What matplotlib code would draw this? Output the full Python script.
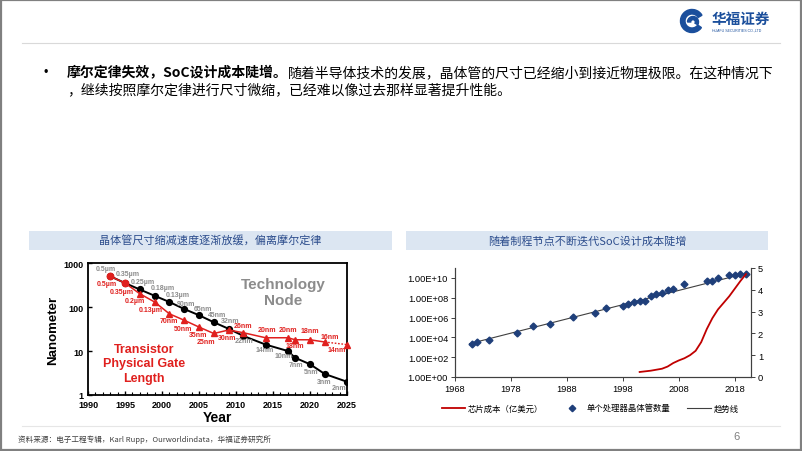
import math
import matplotlib
matplotlib.use("Agg")
import matplotlib.pyplot as plt
from matplotlib.patches import Rectangle, Wedge
from matplotlib.lines import Line2D
from matplotlib.ticker import FixedLocator, NullLocator, FuncFormatter

plt.rcParams['font.family'] = ['Liberation Sans', 'Noto Sans CJK SC', 'DejaVu Sans']
CJK = ['Noto Sans CJK SC', 'DejaVu Sans']

W, H = 802, 452

# ---------------- data: left chart (technology node vs gate length)
node_years = [1993, 1995, 1997, 1999, 2001, 2003, 2005, 2007, 2009, 2011, 2014, 2017, 2018, 2020, 2022, 2025]
node_nm = [500, 350, 250, 180, 130, 90, 65, 45, 32, 22, 14, 10, 7, 5, 3, 2]
node_labels = ['0.5µm', '0.35µm', '0.25µm', '0.18µm', '0.13µm', '90nm', '65nm', '45nm',
               '32nm', '22nm', '14nm', '10nm', '7nm', '5nm', '3nm', '2nm']
gate_years = [1993, 1995, 1997, 1999, 2001, 2003, 2005, 2007, 2009, 2011, 2014, 2017, 2018, 2020, 2022]
gate_nm = [500, 350, 200, 130, 70, 50, 35, 25, 30, 26, 20, 20, 18, 18, 16]
gate_labels = ['0.5µm', '0.35µm', '0.2µm', '0.13µm', '70nm', '50nm', '35nm', '25nm',
               '30nm', '26nm', '20nm', '20nm', '18nm', '18nm', '16nm']
gate_proj_years = [2022, 2025]
gate_proj_nm = [16, 14]
gate_proj_label = '14nm'

# ---------------- data: right chart (transistor count, chip design cost)
tr_years = [1971, 1972, 1974, 1979, 1982, 1985, 1989, 1993, 1995, 1998, 1999, 2000, 2001, 2002,
            2003, 2004, 2005, 2006, 2007, 2009, 2013, 2014, 2015, 2017, 2018, 2019, 2020]
tr_count = [2.0e3, 3.5e3, 5.6e3, 2.9e4, 1.3e5, 2.5e5, 1.1e6, 3.2e6, 9.1e6, 1.5e7, 2.3e7, 3.4e7, 4.3e7, 5.0e7,
            1.4e8, 2.6e8, 2.8e8, 6.0e8, 7.1e8, 2.5e9, 5.0e9, 5.4e9, 1.0e10, 1.8e10, 2.0e10, 2.3e10, 2.5e10]
trend_years = [1970.6, 2020.1]
trend_count = [2.3e3, 3.0e10]
cost_years = [2001, 2003, 2005, 2006, 2007, 2008, 2009, 2010, 2011, 2012, 2013, 2014, 2015, 2016,
              2017, 2018, 2019, 2020]
cost_busd = [0.23, 0.29, 0.38, 0.48, 0.64, 0.76, 0.86, 1.0, 1.2, 1.6, 2.2, 2.7, 3.1, 3.4,
             3.7, 4.05, 4.4, 4.72]
right_xticks = [1968, 1978, 1988, 1998, 2008, 2018]
legend_labels = ['芯片成本（亿美元）', '单个处理器晶体管数量', '趋势线']

title_bold = '摩尔定律失效，SoC设计成本陡增。'
title_rest = '随着半导体技术的发展，晶体管的尺寸已经缩小到接近物理极限。在这种情况下'
title_line2 = '，继续按照摩尔定律进行尺寸微缩，已经难以像过去那样显著提升性能。'
left_header = '晶体管尺寸缩减速度逐渐放缓，偏离摩尔定律'
right_header = '随着制程节点不断迭代SoC设计成本陡增'
source = '资料来源：电子工程专辑，Karl Rupp，Ourworldindata，华福证券研究所'

# label offsets in pixels (style only)
node_off = [(-4, 8), (3, 10), (3, 8), (8, 8), (8, 7), (2, 6), (4, 7), (3, 8), (2, 8),
            (1, -5), (-1, -5), (-4, -5), (1, -7), (1, -7), (-1, -7), (-8, -6)]
gate_off = [(-3, -7), (-3, -8), (-5, -7), (-4, -8), (-1, -7), (-1, -8), (-1, -7), (-8, -8),
            (-2, -7), (0, 7), (1, 8), (0, 8), (0, -6), (0, 9), (5, 6)]

fig = plt.figure(figsize=(8.02, 4.52), dpi=100)
bg = fig.add_axes([0, 0, 1, 1])
bg.set_xlim(0, W)
bg.set_ylim(H, 0)
bg.axis('off')

# slide frame, header rule, footer rule
bg.add_patch(Rectangle((1, 1), W - 2, H - 2, fill=False, ec='#808080', lw=1.6))
bg.plot([22, 780], [44, 44], color='#d9d9d9', lw=0.8)
bg.plot([22, 780], [427, 427], color='#e6e6e6', lw=0.8)

# logo
blue = '#1B4F9C'
bg.add_patch(Wedge((692, 22), 11.5, 35, 330, width=4.5, color=blue))
bg.add_patch(Wedge((693, 23), 5.5, 180, 30, width=3.2, color=blue))
bg.text(712, 19, '华福证券', family=CJK, fontsize=10.5, fontweight='bold', color=blue, va='center', ha='left')
bg.text(712, 31, 'HUAFU SECURITIES CO.,LTD', fontsize=2.6, color=blue, va='center', ha='left')

# bullet text
bg.text(44, 73, '•', fontsize=9, va='center', ha='left', color='#000000')
t1 = bg.text(67, 73, title_bold, family=CJK, fontsize=10, fontweight='bold', va='center', ha='left')
bg.annotate(title_rest, xy=(1, 0), xycoords=t1, va='bottom', ha='left', family=CJK, fontsize=10)
bg.text(67, 90, title_line2, family=CJK, fontsize=10, va='center', ha='left')

# panel headers
hdr_fc = '#DCE6F2'
hdr_tc = '#2B4C8C'
bg.add_patch(Rectangle((29, 232), 363, 18.5, fc=hdr_fc, ec='none'))
bg.text(210, 241.5, left_header, family=CJK, fontsize=8, color=hdr_tc, ha='center', va='center')
bg.add_patch(Rectangle((406, 232), 362, 18.5, fc=hdr_fc, ec='none'))
bg.text(587, 241.5, right_header, family=CJK, fontsize=8, color=hdr_tc, ha='center', va='center')

# footer
bg.text(18, 440, source, family=CJK, fontsize=5.5, color='#404040', ha='left', va='center')
bg.text(737, 437, '6', fontsize=8, color='#7f7f7f', ha='center', va='center')

# ---------------- left chart
red = '#E0201E'
gray_lbl = '#8c8c8c'
ax1 = fig.add_axes([88 / W, 1 - 396 / H, (347 - 88) / W, (396 - 264) / H])
ax1.set_yscale('log')
ax1.plot(node_years, node_nm, color='black', lw=1.4, marker='o', ms=4.2, zorder=3)
ax1.plot(gate_years[2:], gate_nm[2:], color=red, lw=1.1, marker='^', ms=4.2, zorder=4)
ax1.plot(gate_years[:3], gate_nm[:3], color=red, lw=1.1, zorder=4)
ax1.plot(gate_years[:2], gate_nm[:2], color=red, lw=0, marker='o', ms=4.6, zorder=5)
ax1.plot(gate_proj_years, gate_proj_nm, color=red, lw=1.0, ls=(0, (1.2, 1.2)), zorder=4)
ax1.plot(gate_proj_years[1:], gate_proj_nm[1:], color=red, lw=0, marker='^', ms=4.2,
         clip_on=False, zorder=4)
for x, y, s, (dx, dy) in zip(node_years, node_nm, node_labels, node_off):
    ax1.annotate(s, (x, y), xytext=(dx, dy), textcoords='offset pixels', ha='center', va='center',
                 fontsize=5, fontweight='bold', color=gray_lbl, annotation_clip=False)
for x, y, s, (dx, dy) in zip(gate_years, gate_nm, gate_labels, gate_off):
    ax1.annotate(s, (x, y), xytext=(dx, dy), textcoords='offset pixels', ha='center', va='center',
                 fontsize=5, fontweight='bold', color=red, annotation_clip=False)
ax1.annotate(gate_proj_label, (gate_proj_years[1], gate_proj_nm[1]), xytext=(-10, -5),
             textcoords='offset pixels', ha='center', va='center', fontsize=5, fontweight='bold',
             color=red, annotation_clip=False)
ax1.set_xlim(1990, 2025)
ax1.set_ylim(1, 1000)
ax1.xaxis.set_major_locator(FixedLocator(range(1990, 2026, 5)))
ax1.xaxis.set_minor_locator(FixedLocator(range(1990, 2026, 1)))
ax1.yaxis.set_major_locator(FixedLocator([1, 10, 100, 1000]))
ax1.yaxis.set_minor_locator(NullLocator())
ax1.yaxis.set_major_formatter(FuncFormatter(lambda v, p: '%d' % v))
ax1.tick_params(axis='both', which='major', direction='in', length=3, width=1, labelsize=6.5)
ax1.tick_params(axis='x', which='major', pad=3.5)
ax1.tick_params(axis='y', which='major', pad=3)
ax1.tick_params(axis='x', which='minor', direction='in', length=2, width=0.8)
for lab in ax1.get_xticklabels() + ax1.get_yticklabels():
    lab.set_fontweight('bold')
for sp in ax1.spines.values():
    sp.set_linewidth(1.3)
ax1.set_xlabel('Year', fontsize=10, fontweight='bold', labelpad=1)
ax1.set_ylabel('Nanometer', fontsize=9.5, fontweight='bold', labelpad=3)
ax1.text(0.755, 0.78, 'Technology\nNode', transform=ax1.transAxes, ha='center', va='center',
         fontsize=11, fontweight='bold', color='#8c8c8c', linespacing=1.15)
ax1.text(0.215, 0.24, 'Transistor\nPhysical Gate\nLength', transform=ax1.transAxes, ha='center',
         va='center', fontsize=9, fontweight='bold', color=red, linespacing=1.25)

# ---------------- right chart
navy = '#1F3F7A'
dark = '#c00000'
ax2 = fig.add_axes([455 / W, 1 - 378 / H, (751 - 455) / W, (378 - 269) / H])
ax2.set_yscale('log')
ax2.plot(trend_years, trend_count, color='#404040', lw=0.8, zorder=2)
ax2.plot(tr_years, tr_count, lw=0, marker='D', ms=3.5, color=navy, zorder=3)
ax2.set_xlim(1968, 2020.9)
ax2.set_ylim(1, 1e11)
ax2.xaxis.set_major_locator(FixedLocator(right_xticks))
ax2.yaxis.set_major_locator(FixedLocator([10.0 ** k for k in range(0, 11, 2)]))
ax2.yaxis.set_minor_locator(NullLocator())
ax2.yaxis.set_major_formatter(FuncFormatter(lambda v, p: '1.00E+%02d' % round(math.log10(v))))
ax2.tick_params(axis='both', direction='out', length=3, width=0.7, labelsize=6.7, pad=2, color='#404040')
ax2.spines['top'].set_visible(False)
for sp in ['left', 'bottom', 'right']:
    ax2.spines[sp].set_color('#404040')
    ax2.spines[sp].set_linewidth(0.8)

ax2r = ax2.twinx()
ax2r.plot(cost_years, cost_busd, color=dark, lw=1.3, zorder=4)
ax2r.set_ylim(0, 5)
ax2r.yaxis.set_major_locator(FixedLocator([0, 1, 2, 3, 4, 5]))
ax2r.tick_params(axis='y', direction='out', length=3, width=0.7, labelsize=6.7, pad=2, color='#404040')
ax2r.spines['top'].set_visible(False)
for sp in ['left', 'bottom', 'right']:
    ax2r.spines[sp].set_color('#404040')
    ax2r.spines[sp].set_linewidth(0.8)

handles = [Line2D([], [], color=dark, lw=1.3),
           Line2D([], [], lw=0, marker='D', ms=3.3, color=navy),
           Line2D([], [], color='#404040', lw=0.8)]
fig.legend(handles, legend_labels, loc='center', bbox_to_anchor=(590 / W, 1 - 409 / H), ncol=3,
           frameon=False, prop={'family': CJK, 'size': 6}, handlelength=2.8, handletextpad=0.3,
           columnspacing=2.1, borderpad=0)

fig.savefig('out.png', dpi=100)
